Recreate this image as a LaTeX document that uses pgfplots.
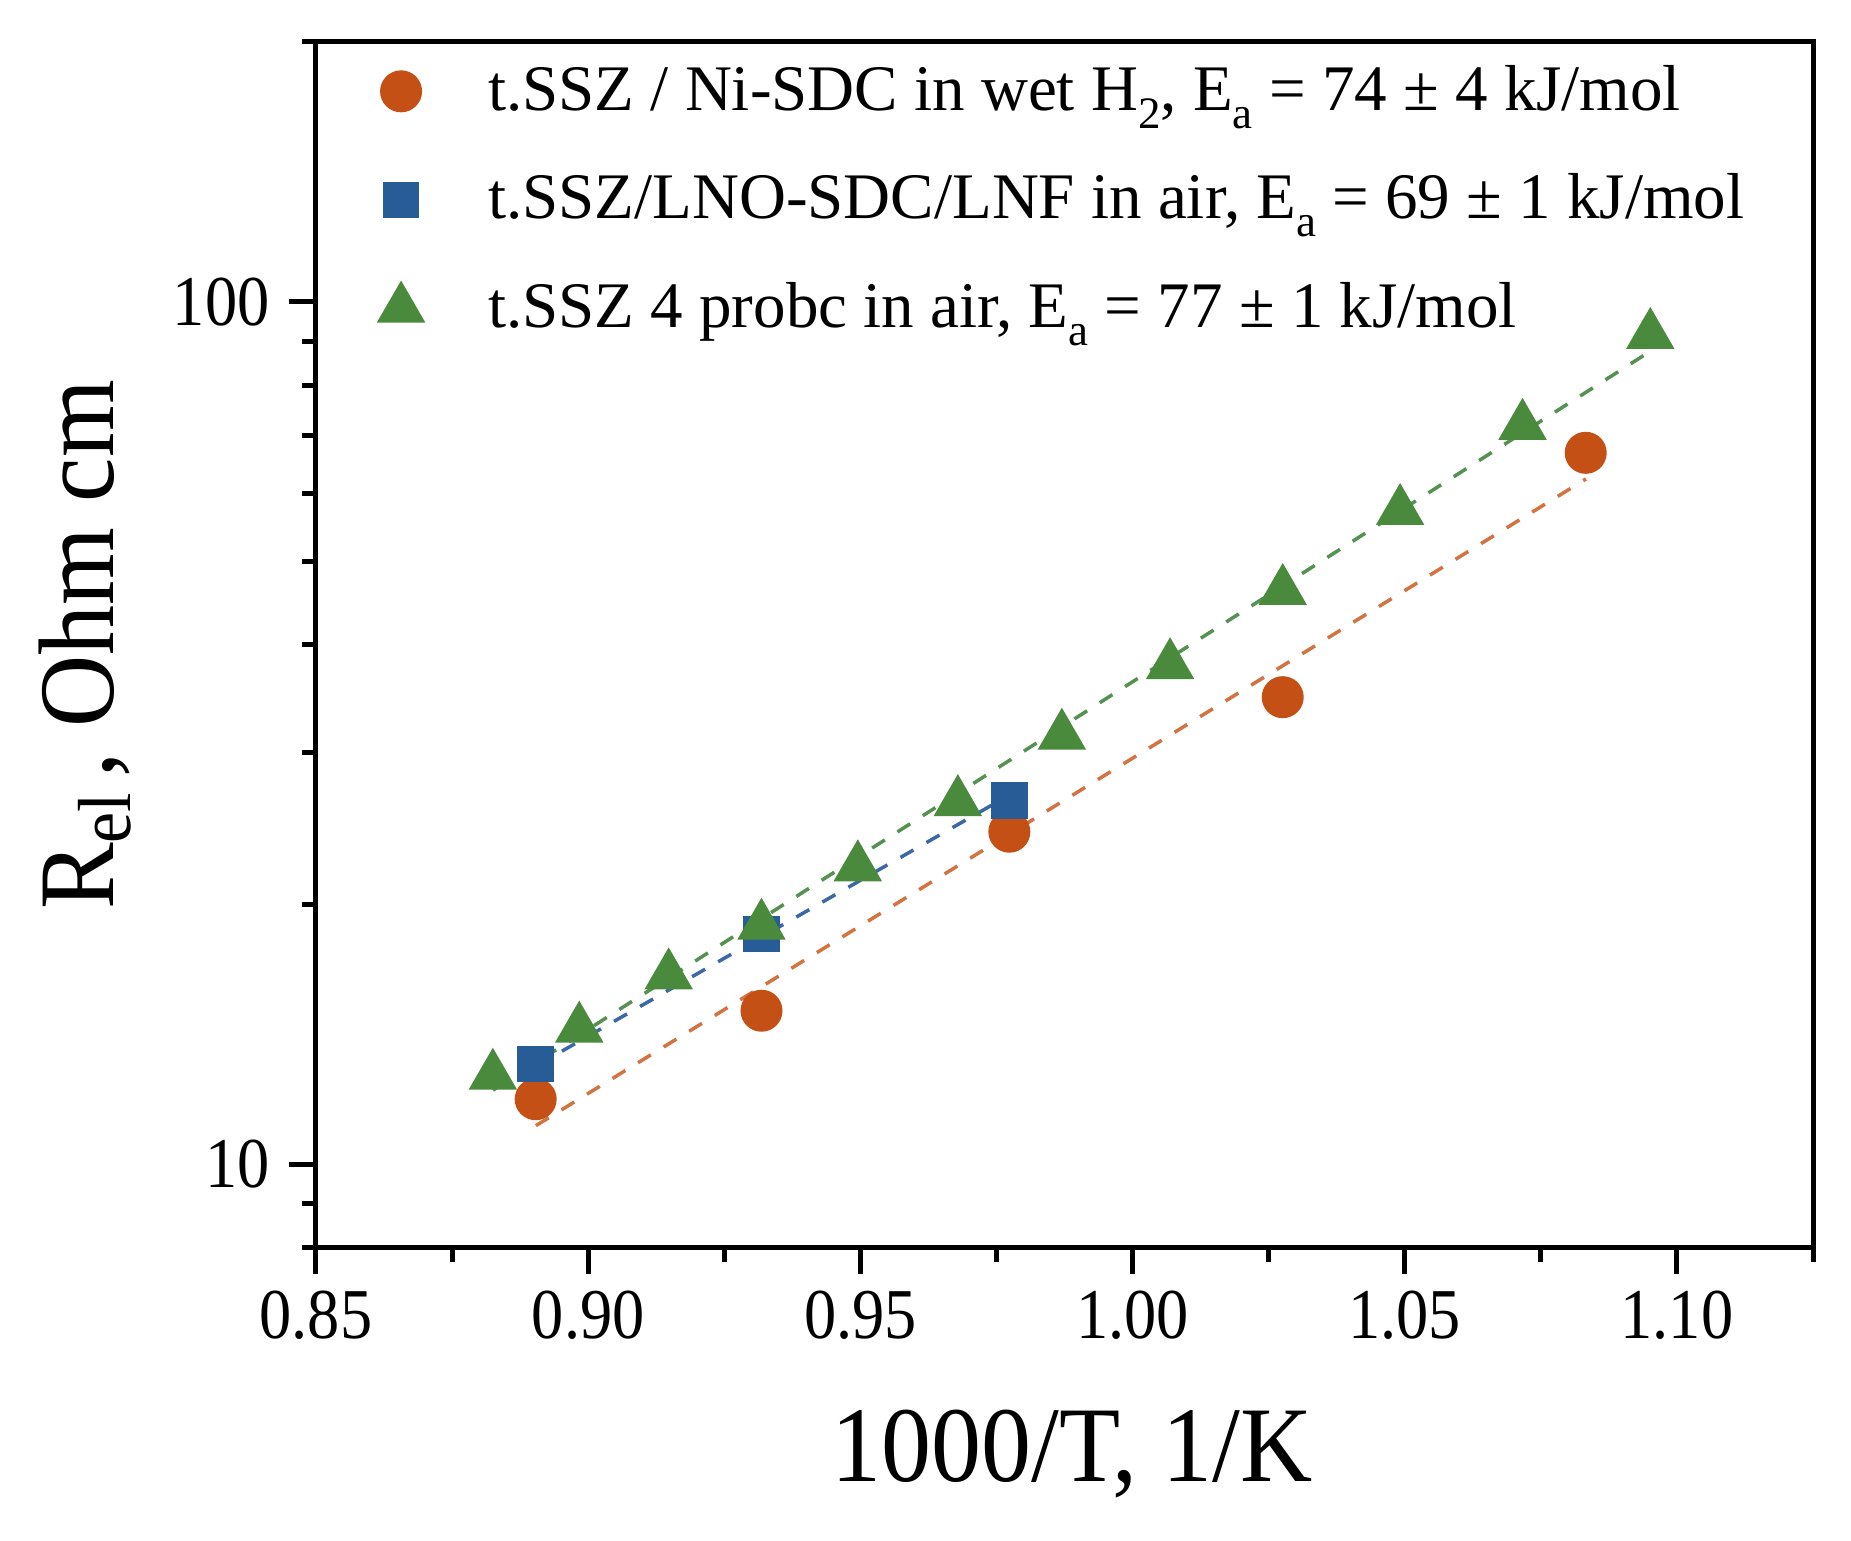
\documentclass[border=0pt]{standalone}
\usepackage{fontspec}
\setmainfont{Liberation Serif}
\newfontfamily\condserif{Liberation Serif}[FakeStretch=0.9]
\newfontfamily\labserif{Liberation Serif}[FakeStretch=0.93]
\usepackage{pgfplots}
\pgfplotsset{compat=1.18}

\definecolor{cred}{RGB}{197,80,22}
\definecolor{cblue}{RGB}{40,92,150}
\definecolor{cgreen}{RGB}{74,138,60}
\definecolor{lred}{RGB}{210,115,65}
\definecolor{lblue}{RGB}{60,105,165}
\definecolor{lgreen}{RGB}{85,145,80}

\newcommand\sub[1]{\raisebox{-0.6ex}{\fontsize{9}{9}\selectfont #1}}

\begin{document}
\begin{tikzpicture}
\begin{axis}[
    at={(0,0)}, anchor=south west,
    scale only axis, width=299.4pt, height=241.2pt,
    ymode=log,
    xmin=0.85, xmax=1.125, ymin=8, ymax=200,
    xtick={0.85,0.9,0.95,1,1.05,1.1},
    xticklabels={0.85,0.90,0.95,1.00,1.05,1.10},
    minor xtick={0.875,0.925,0.975,1.025,1.075,1.125},
    ytick={10,100}, yticklabels={10,100},
    minor ytick={8,9,20,30,40,50,60,70,80,90,200},
    xtick pos=bottom, ytick pos=left,
    tick align=outside,
    major tick length=5.3pt, minor tick length=2.8pt,
    tick style={line width=1pt, black},
    axis line style={line width=1pt},
    ticklabel style={font=\condserif\fontsize{14.3}{14.3}\selectfont, inner sep=0pt},
    xticklabel style={yshift=-3.2pt},
    yticklabel style={xshift=-3.8pt},
    label style={font=\labserif\fontsize{21.5}{21.5}\selectfont},
    xlabel={1000/T, 1/K},
    xlabel style={at={(axis description cs:0.505,0)}, anchor=base, yshift=-46.8pt},
    ylabel={R\textsubscript{el}\hspace{0.12em}, Ohm cm},
    ylabel style={at={(axis description cs:-0.135,0.5)}, anchor=base},
    legend style={at={(axis description cs:0.027,0.99)}, anchor=north west,
        draw=none, fill=none, inner sep=0pt, row sep=7.2pt,
        font=\fontsize{13}{13}\selectfont},
    legend cell align=left,
    legend image code/.code={%
        \path (-0.3cm,0cm) (0.535cm,0cm);
        \draw[#1] plot coordinates {(0cm,0cm)};},
]
% fitted lines
\addplot[lred, line width=0.7pt, dash pattern=on 3pt off 3pt, forget plot]
    coordinates {(0.8904,11.09) (1.0833,62.3)};
\addplot[lblue, line width=0.7pt, dash pattern=on 3pt off 3pt, forget plot]
    coordinates {(0.8904,13.0) (0.9774,26.8)};
\addplot[lgreen, line width=0.7pt, dash pattern=on 3pt off 3pt, forget plot]
    coordinates {(0.8825,12.19) (1.0951,87.6)};

% data
\addplot[only marks, mark=*, mark size=4pt, color=cred] coordinates {
    (0.89036,11.9) (0.93184,15.07) (0.97737,24.3) (1.02759,34.8) (1.08325,66.8)
};
\addlegendentry{t.SSZ / Ni-SDC in wet H\sub{2}, E\sub{a} = 74 ± 4 kJ/mol}
\addplot[only marks, mark=square*, mark size=3.45pt, color=cblue] coordinates {
    (0.89036,13.07) (0.93184,18.5) (0.97737,26.4)
};
\addlegendentry{t.SSZ/LNO-SDC/LNF in air, E\sub{a} = 69 ± 1 kJ/mol}
\addplot[only marks, mark=triangle*, mark size=5.2pt, color=cgreen] coordinates {
    (0.88249,12.67) (0.89836,14.37) (0.91479,16.56) (0.93184,18.91)
    (0.94953,22.1) (0.96791,26.3) (0.98702,31.4) (1.00690,37.9)
    (1.02759,46.2) (1.04915,57.2) (1.07164,71.8) (1.09511,91.5)
};
\addlegendentry{t.SSZ 4 probc in air, E\sub{a} = 77 ± 1 kJ/mol}
\end{axis}
\pgfresetboundingbox
\useasboundingbox (-63.2pt,-58.6pt) rectangle (307pt,249.6pt);
\end{tikzpicture}
\end{document}
